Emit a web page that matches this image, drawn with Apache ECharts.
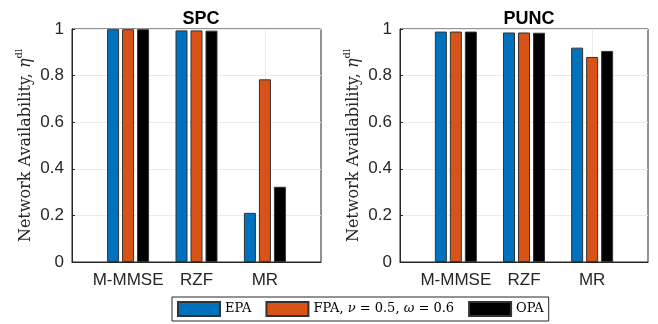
<!DOCTYPE html>
<html>
<head>
<meta charset="utf-8">
<script src="https://cdn.jsdelivr.net/npm/echarts@6/dist/echarts.min.js"></script>
<style>
  html, body { margin: 0; padding: 0; background: #fff; }
  #chart { width: 658px; height: 324px; }
</style>
</head>
<body>
<div id="chart"></div>
<script>
const categories = ['M-MMSE', 'RZF', 'MR'];
const yTicks = [0, 0.2, 0.4, 0.6, 0.8, 1];
const titles = ['SPC', 'PUNC'];

// SPC
const spcEPA = [0.999, 0.994, 0.211];
const spcFPA = [0.999, 0.994, 0.784];
const spcOPA = [0.999, 0.993, 0.323];
// PUNC
const puncEPA = [0.989, 0.985, 0.920];
const puncFPA = [0.989, 0.985, 0.880];
const puncOPA = [0.989, 0.984, 0.906];

const seriesNames = ['EPA', 'FPA', 'OPA'];
const colors = ['#0072BD', '#D95319', '#000000'];

const ink = '#262626';
const gridCol = '#ebebeb';

function toPoints(arr) {
  return arr.map((v, i) => [i + 1, v]);
}

function makeX(idx) {
  return {
    type: 'value',
    gridIndex: idx,
    min: 0.18,
    max: 3.82,
    axisLine: { show: true, lineStyle: { color: ink } },
    axisTick: { show: true, inside: true, length: 3, customValues: [1, 2, 3], lineStyle: { color: ink } },
    axisLabel: {
      customValues: [1, 2, 3],
      color: ink,
      fontFamily: 'Liberation Sans',
      fontSize: 17,
      margin: 10,
      formatter: (v) => categories[Math.round(v) - 1] || ''
    },
    splitLine: { show: true, lineStyle: { color: gridCol } }
  };
}

function makeY(idx) {
  return {
    type: 'value',
    gridIndex: idx,
    min: 0,
    max: 1,
    interval: 0.2,
    name: '{a|Network Availability, }{e|η}{s|dl}',
    nameLocation: 'middle',
    nameRotate: 90,
    nameGap: 38,
    nameTextStyle: {
      rich: {
        a: { fontFamily: 'DejaVu Serif', fontSize: 16, color: ink, lineHeight: 20, verticalAlign: 'bottom' },
        e: { fontFamily: 'DejaVu Serif', fontSize: 16, fontStyle: 'italic', color: ink, lineHeight: 20, verticalAlign: 'bottom' },
        s: { fontFamily: 'DejaVu Serif', fontSize: 10, color: ink, lineHeight: 20, verticalAlign: 'top' }
      }
    },
    axisLine: { show: true, lineStyle: { color: ink } },
    axisTick: { show: true, inside: true, length: 3, lineStyle: { color: ink } },
    axisLabel: {
      color: ink,
      fontFamily: 'Liberation Sans',
      fontSize: 17,
      margin: 8,
      formatter: (v) => yTicks.includes(Math.round(v * 10) / 10) ? String(Math.round(v * 10) / 10) : ''
    },
    splitLine: { show: true, lineStyle: { color: gridCol } }
  };
}

function makeBars(idx, groups) {
  return groups.map((vals, k) => ({
    name: seriesNames[k],
    type: 'bar',
    xAxisIndex: idx,
    yAxisIndex: idx,
    data: toPoints(vals),
    barWidth: 12,
    barGap: '25%',
    itemStyle: { color: colors[k], borderColor: '#333', borderWidth: 1 },
    emphasis: { disabled: true }
  }));
}

const chart = echarts.init(document.getElementById('chart'));
chart.setOption({
  animation: false,
  color: colors,
  title: [
    { text: titles[0], left: 196, top: 5, textAlign: 'center',
      textStyle: { fontFamily: 'Liberation Sans', fontWeight: 'bold', fontSize: 18, color: '#000' } },
    { text: titles[1], left: 524, top: 5, textAlign: 'center',
      textStyle: { fontFamily: 'Liberation Sans', fontWeight: 'bold', fontSize: 18, color: '#000' } }
  ],
  grid: [
    { left: 72, top: 29, width: 249, height: 233, show: true, borderColor: ink, borderWidth: 1, backgroundColor: '#fff' },
    { left: 400, top: 29, width: 248, height: 233, show: true, borderColor: ink, borderWidth: 1, backgroundColor: '#fff' }
  ],
  xAxis: [makeX(0), makeX(1)],
  yAxis: [makeY(0), makeY(1)],
  legend: {
    left: 172,
    top: 297,
    data: [
      { name: 'EPA' },
      { name: 'FPA' },
      { name: 'OPA' }
    ],
    icon: 'rect',
    itemWidth: 42,
    itemHeight: 14,
    itemGap: 14,
    padding: [4, 5],
    borderColor: ink,
    borderWidth: 1,
    formatter: (n) => n === 'FPA' ? '{t|FPA, }{g|ν}{t| = 0.5, }{g|ω}{t| = 0.6}' : '{t|' + n + '}',
    textStyle: {
      rich: {
        t: { fontFamily: 'DejaVu Serif', fontSize: 13, color: '#000' },
        g: { fontFamily: 'DejaVu Serif', fontSize: 13, fontStyle: 'italic', color: '#000' }
      }
    },
    selectedMode: false
  },
  series: [
    ...makeBars(0, [spcEPA, spcFPA, spcOPA]),
    ...makeBars(1, [puncEPA, puncFPA, puncOPA])
  ]
});
</script>
</body>
</html>
